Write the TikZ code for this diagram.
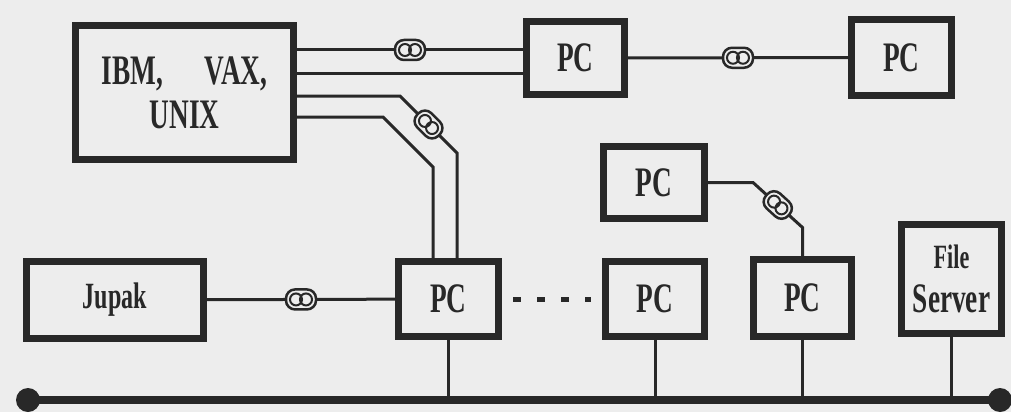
\documentclass[tikz,border=0pt]{standalone}
\usepackage{fontspec}
\setmainfont{Liberation Serif}
\newfontfamily\scanfont[FakeStretch=0.65]{Liberation Serif}
\usetikzlibrary{positioning, calc}
\definecolor{ink}{RGB}{40,40,40}
\definecolor{paper}{RGB}{237,237,237}

\begin{document}
\begin{tikzpicture}[
            x=1pt, y=-1pt,
            unit/.style   ={rectangle, draw=ink, line width=7pt, fill=paper, inner sep=0pt,
                            text=ink, align=center, font=\scanfont\bfseries\fontsize{42}{44}\selectfont},
            small/.style  ={font=\scanfont\bfseries\fontsize{37}{37}\selectfont},
            link/.style   ={draw=ink, line width=3pt},
            bus/.style    ={draw=ink, line width=8pt},
            coupler/.style={rectangle, rounded corners=9pt, draw=ink, line width=2.5pt, fill=paper,
                            minimum width=30pt, minimum height=20pt, inner sep=0pt,
                            path picture={\draw[ink, line width=2pt]
                              ([xshift=-5pt]path picture bounding box.center) circle (6pt)
                              ([xshift=5pt]path picture bounding box.center) circle (6pt);}},
            busend/.style ={circle, fill=ink, minimum size=24pt, inner sep=0pt}
        ]
            \fill[paper] (0,0) rectangle (1011,412);
            \useasboundingbox (0,0) rectangle (1011,412);

            % hosts and workstations
            \node[unit, minimum width=218, minimum height=134] (host) at (184.5,92.5) {IBM,\quad VAX,\\UNIX};
            \node[unit, minimum width=98,  minimum height=73]  (pcA)  at (575.5,58)   {PC};
            \node[unit, minimum width=100, minimum height=76]  (pcB)  at (901.5,57.5) {PC};
            \node[unit, small, minimum width=177, minimum height=77] (jupak) at (115,300) {Jupak};
            \node[unit, minimum width=100, minimum height=75]  (pcC)  at (448.5,299)  {PC};
            \node[unit, minimum width=101, minimum height=72]  (pcD)  at (654,182.5)  {PC};
            \node[unit, minimum width=99,  minimum height=75]  (pcE)  at (655,299)    {PC};
            \node[unit, minimum width=98,  minimum height=77]  (pcF)  at (802.5,298)  {PC};
            \node[unit, minimum width=100, minimum height=109] (fs)   at (951.5,279)
                 {\fontsize{34}{36}\selectfont File\\Server};

            % bus
            \coordinate (busL) at (28,400);
            \coordinate (busR) at (1000,400);
            \draw[bus] (busL) -- (busR);
            \node[busend] (endL) at (busL) {};
            \node[busend] (endR) at (busR) {};

            \draw[link] ([yshift=42.5]host.east) -- node[coupler]{} ([yshift=42.5]host.east -| pcA.west);
            \draw[link] ([yshift=19.5]host.east) -- ([yshift=19.5]host.east -| pcA.west);
            \draw[link] (pcA) -- node[coupler]{} (pcB);
            \draw[link] ([yshift=-3.5]host.east) -- ++(103,0) -- node[coupler, sloped]{} ++(57,57)
                        -- ([xshift=8.5]pcC.north);
            \draw[link] ([yshift=-24.5]host.east) -- ++(86,0) -- ++(50,50) -- ([xshift=-15.5]pcC.north);
            \draw[link] (jupak) -- node[coupler]{} (pcC);
            \draw[link] (pcD.east) -- ++(45,0) -- node[coupler, sloped]{} ++(49.5,45) -- (pcF.north);
            \draw[ink, line width=5pt, dash pattern=on 8pt off 16pt]
                        ([xshift=11]pcC.east) -- ([xshift=-11]pcE.west);

            \draw[link] (pcC.south) -- (pcC.south |- busL);
            \draw[link] (pcE.south) -- (pcE.south |- busL);
            \draw[link] (pcF.south) -- (pcF.south |- busL);
            \draw[link] (fs.south)  -- (fs.south |- busL);
        \end{tikzpicture}
\end{document}
